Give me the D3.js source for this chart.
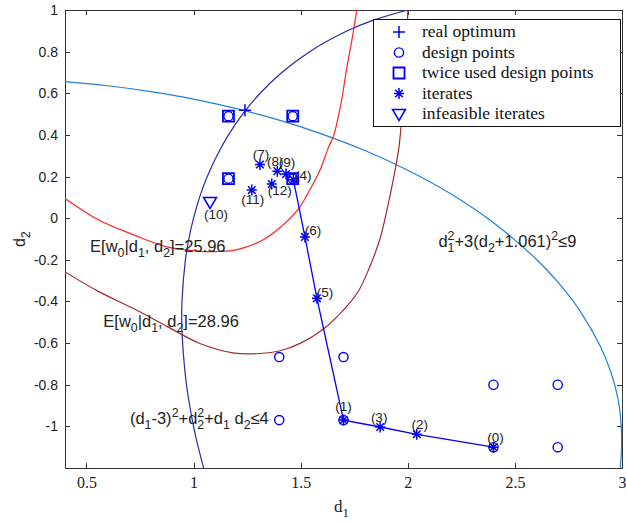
<!DOCTYPE html>
<html>
<head>
<meta charset="utf-8">
<script src="https://cdn.jsdelivr.net/npm/d3@7"></script>
<style>
  body { margin: 0; background: #fff; }
  svg { display: block; }
</style>
</head>
<body>
<svg id="canvas"></svg>
<script>
// values
const xTicks = [0.5, 1, 1.5, 2, 2.5, 3]
const yTicks = [-1, -0.8, -0.6, -0.4, -0.2, 0, 0.2, 0.4, 0.6, 0.8, 1]

const realOptimum = [[1.24, 0.518]]

const designPoints = [
  [1.4, -0.667], [1.7, -0.667], [1.4, -0.97], [1.7, -0.97],
  [2.4, -0.8], [2.7, -0.8], [2.4, -1.1], [2.7, -1.1],
  [1.163, 0.49], [1.463, 0.49], [1.163, 0.19], [1.463, 0.19]
]
const twiceUsed = [[1.163, 0.49], [1.463, 0.49], [1.163, 0.19], [1.463, 0.19]]

// iterate number, d1, d2
const iterates = [
  [0, 2.4, -1.1], [1, 1.7, -0.97], [2, 2.042, -1.038], [3, 1.871, -1.003],
  [4, 1.466, 0.185], [5, 1.576, -0.385], [6, 1.52, -0.09], [7, 1.31, 0.258],
  [8, 1.391, 0.226], [9, 1.432, 0.212], [11, 1.272, 0.135], [12, 1.365, 0.164]
]
const infeasible = [[10, 1.077, 0.078]]
const pathOrder = [0, 2, 3, 1, 5, 6, 4]

// constraint d1^2+3(d2+1.061)^2<=9
const ellipseCurve = [
  [0.4, 0.656], [0.6, 0.636], [0.8, 0.608], [1.0, 0.572], [1.2, 0.526], [1.4, 0.471],
  [1.6, 0.404], [1.8, 0.325], [2.0, 0.23], [2.2, 0.117], [2.4, -0.022], [2.6, -0.197],
  [2.7, -0.306], [2.8, -0.439], [2.9, -0.618], [2.95, -0.746], [2.98, -0.861],
  [2.995, -0.98], [2.998, -1.1], [2.992, -1.2]
]
// constraint (d1-3)^2+d2^2+d1 d2<=4
const quadCurve = [
  [1.047, -1.2], [1.022, -1.1], [1.0, -1.0], [0.967, -0.8], [0.949, -0.6], [0.945, -0.5],
  [0.946, -0.4], [0.962, -0.2], [0.978, -0.1], [1.0, 0.0], [1.028, 0.1], [1.064, 0.2],
  [1.109, 0.3], [1.163, 0.4], [1.229, 0.5], [1.311, 0.6], [1.412, 0.7], [1.542, 0.8],
  [1.718, 0.9], [1.837, 0.95], [2.0, 1.0]
]
// E[w0|d1,d2] = 25.96
const contour1 = [
  [0.4, 0.095], [0.56, -0.01], [0.72, -0.08], [0.875, -0.138], [1.03, -0.159],
  [1.12, -0.16], [1.2, -0.152], [1.31, -0.112], [1.4, -0.048], [1.49, 0.045],
  [1.545, 0.14], [1.59, 0.23], [1.63, 0.34], [1.655, 0.4], [1.69, 0.56],
  [1.715, 0.72], [1.74, 0.86], [1.762, 1.0]
]
// E[w0|d1,d2] = 28.96
const contour2 = [
  [0.4, -0.258], [0.56, -0.354], [0.72, -0.434], [0.88, -0.522], [1.03, -0.602],
  [1.19, -0.648], [1.31, -0.65], [1.4, -0.638], [1.5, -0.6], [1.61, -0.53],
  [1.71, -0.43], [1.77, -0.35], [1.82, -0.24], [1.87, -0.1], [1.905, 0.05],
  [1.935, 0.2], [1.96, 0.35], [1.98, 0.6], [1.995, 0.8], [2.0, 1.0]
]

const legendLabels = ['real optimum', 'design points', 'twice used design points', 'iterates', 'infeasible iterates']

// layout
const width = 626
const height = 522
const pLeft = 65, pRight = 622, pTop = 10, pBottom = 468
const blue = '#0000ff'

const svg = d3.select('#canvas')
  .attr('width', width)
  .attr('height', height)

const x = d3.scaleLinear().domain([0.4, 3]).range([pLeft, pRight])
const y = d3.scaleLinear().domain([-1.2, 1]).range([pBottom, pTop])

svg.append('defs').append('clipPath').attr('id', 'plot')
  .append('rect')
  .attr('x', pLeft).attr('y', pTop)
  .attr('width', pRight - pLeft).attr('height', pBottom - pTop)

// axes, box style with inward ticks
const axisColor = '#333'
const styleAxis = (g) => {
  g.selectAll('path').attr('stroke', axisColor).attr('shape-rendering', 'crispEdges')
  g.selectAll('line').attr('stroke', axisColor).attr('shape-rendering', 'crispEdges')
  g.selectAll('text').attr('fill', '#222')
}

const serif = '"Liberation Serif", "Times New Roman", serif'
const sans = '"Liberation Sans", Arial, sans-serif'

svg.append('g')
  .attr('transform', 'translate(0,' + pBottom + ')')
  .call(d3.axisBottom(x).tickValues(xTicks).tickSizeInner(-5).tickSizeOuter(0).tickPadding(9)
    .tickFormat(d => String(d)))
  .attr('font-family', serif)
  .attr('font-size', 16)
  .call(styleAxis)

svg.append('g')
  .attr('transform', 'translate(0,' + pTop + ')')
  .call(d3.axisTop(x).tickValues(xTicks).tickSizeInner(-5).tickSizeOuter(0).tickFormat(''))
  .call(styleAxis)

svg.append('g')
  .attr('transform', 'translate(' + pLeft + ',0)')
  .call(d3.axisLeft(y).tickValues(yTicks).tickSizeInner(-5).tickSizeOuter(0).tickPadding(7)
    .tickFormat(d => String(d)))
  .attr('font-family', sans)
  .attr('font-size', 14)
  .call(styleAxis)

svg.append('g')
  .attr('transform', 'translate(' + pRight + ',0)')
  .call(d3.axisRight(y).tickValues(yTicks).tickSizeInner(-5).tickSizeOuter(0).tickFormat(''))
  .call(styleAxis)

// rich text helper: parts are [text, kind], kind '' | 'sub' | 'sup' | 'stack' (sub then sup above it)
const rich = (parent, px, py, parts, size, family) => {
  const t = parent.append('text')
    .attr('x', px).attr('y', py)
    .attr('font-size', size)
    .attr('font-family', family)
    .attr('fill', '#222')
  const small = size * 0.75
  const subOff = size * 0.3
  const supOff = -size * 0.42
  let cur = 0
  parts.forEach(([s, kind]) => {
    if (kind === 'stack') {
      const [a, b] = s
      t.append('tspan').attr('dy', subOff - cur).attr('font-size', small).text(a)
      t.append('tspan').attr('dx', -small * 0.556).attr('dy', supOff - subOff)
        .attr('font-size', small).text(b)
      cur = supOff
      return
    }
    const off = kind === 'sub' ? subOff : kind === 'sup' ? supOff : 0
    t.append('tspan').attr('dy', off - cur)
      .attr('font-size', kind ? small : size).text(s)
    cur = off
  })
  return t
}

// axis labels
rich(svg, 334, 512, [['d', ''], ['1', 'sub']], 17, serif)
const yl = svg.append('g').attr('transform', 'translate(25,' + ((pTop + pBottom) / 2) + ') rotate(-90)')
rich(yl, -8, 0, [['d', ''], ['2', 'sub']], 16, sans)

// curves
const plot = svg.append('g').attr('clip-path', 'url(#plot)')
const line = d3.line().x(d => x(d[0])).y(d => y(d[1])).curve(d3.curveCatmullRom.alpha(0.5))

const curves = [
  [ellipseCurve, '#1f80dc'],
  [quadCurve, '#2a2aa8'],
  [contour1, '#ff2424'],
  [contour2, '#a52a2a']
]
curves.forEach(([pts, color]) => {
  plot.append('path')
    .attr('d', line(pts))
    .attr('fill', 'none')
    .attr('stroke', color)
    .attr('stroke-width', 1.2)
})

// iteration path
const byIndex = new Map(iterates.map(d => [d[0], d]))
plot.append('path')
  .attr('d', d3.line().x(d => x(d[1])).y(d => y(d[2]))(pathOrder.map(i => byIndex.get(i))))
  .attr('fill', 'none')
  .attr('stroke', blue)
  .attr('stroke-width', 1.3)

// marker shapes
const marks = {
  plus: 'M-6,0H6M0,-6V6',
  circle: null,
  square: 'M-5.5,-5.5H5.5V5.5H-5.5Z',
  star: 'M-5,0H5M0,-5.5V5.5M-3.8,-3.8L3.8,3.8M-3.8,3.8L3.8,-3.8',
  tri: 'M-6.5,-4.5H6.5L0,6.5Z'
}
const drawMark = (g, kind, cx, cy) => {
  if (kind === 'circle') {
    return g.append('circle').attr('cx', cx).attr('cy', cy).attr('r', 4.6)
      .attr('fill', 'none').attr('stroke', blue).attr('stroke-width', 1.4)
  }
  return g.append('path').attr('d', marks[kind])
    .attr('transform', 'translate(' + cx + ',' + cy + ')')
    .attr('fill', 'none').attr('stroke', blue)
    .attr('stroke-width', kind === 'square' ? 1.8 : 1.5)
}

const markers = svg.append('g')
designPoints.forEach(d => drawMark(markers, 'circle', x(d[0]), y(d[1])))
twiceUsed.forEach(d => drawMark(markers, 'square', x(d[0]), y(d[1])))
iterates.forEach(d => drawMark(markers, 'star', x(d[1]), y(d[2])))
infeasible.forEach(d => drawMark(markers, 'tri', x(d[1]), y(d[2])))
realOptimum.forEach(d => drawMark(markers, 'plus', x(d[0]), y(d[1])))

// iterate labels (offsets from the marker, px)
const labelShift = {
  0: [2, -5], 1: [0, -9], 2: [3, -5], 3: [-1, -5], 4: [10, 0], 5: [8, -1], 6: [8, -2],
  7: [1, -5], 8: [-2, -5], 9: [1, -7], 10: [6, 17], 11: [1, 14], 12: [8, 11]
}
const labels = svg.append('g')
  .attr('font-family', sans)
  .attr('font-size', 13.5)
  .attr('fill', '#222')
  .attr('text-anchor', 'middle')
iterates.concat(infeasible).forEach(d => {
  const s = labelShift[d[0]]
  labels.append('text')
    .attr('x', x(d[1]) + s[0])
    .attr('y', y(d[2]) + s[1])
    .text('(' + d[0] + ')')
})

// annotations
rich(svg, x(0.517), y(-0.161), [['E[w', ''], ['0', 'sub'], ['|d', ''], ['1', 'sub'], [', d', ''], ['2', 'sub'], [']=25.96', '']], 16.5, sans)
rich(svg, x(0.579), y(-0.521), [['E[w', ''], ['0', 'sub'], ['|d', ''], ['1', 'sub'], [', d', ''], ['2', 'sub'], [']=28.96', '']], 16.5, sans)
rich(svg, x(0.703), y(-0.99), [['(d', ''], ['1', 'sub'], ['-3)', ''], ['2', 'sup'], ['+d', ''], [['2', '2'], 'stack'], ['+d', ''], ['1', 'sub'], [' d', ''], ['2', 'sub'], ['≤4', '']], 16.5, sans)
rich(svg, x(2.143), y(-0.14), [['d', ''], [['1', '2'], 'stack'], ['+3(d', ''], ['2', 'sub'], ['+1.061)', ''], ['2', 'sup'], ['≤9', '']], 16.5, sans)

// legend
const lg = svg.append('g')
lg.append('rect')
  .attr('x', 373.5).attr('y', 19.5)
  .attr('width', 247).attr('height', 107)
  .attr('fill', '#fff').attr('stroke', '#111').attr('stroke-width', 1)
const legendKinds = ['plus', 'circle', 'square', 'star', 'tri']
legendLabels.forEach((label, i) => {
  const ly = 32 + i * 20.5
  drawMark(lg, legendKinds[i], 399, ly)
  lg.append('text')
    .attr('x', 422).attr('y', ly + 5)
    .attr('font-family', serif)
    .attr('font-size', 17.5)
    .attr('fill', '#111')
    .text(label)
})
</script>
</body>
</html>
